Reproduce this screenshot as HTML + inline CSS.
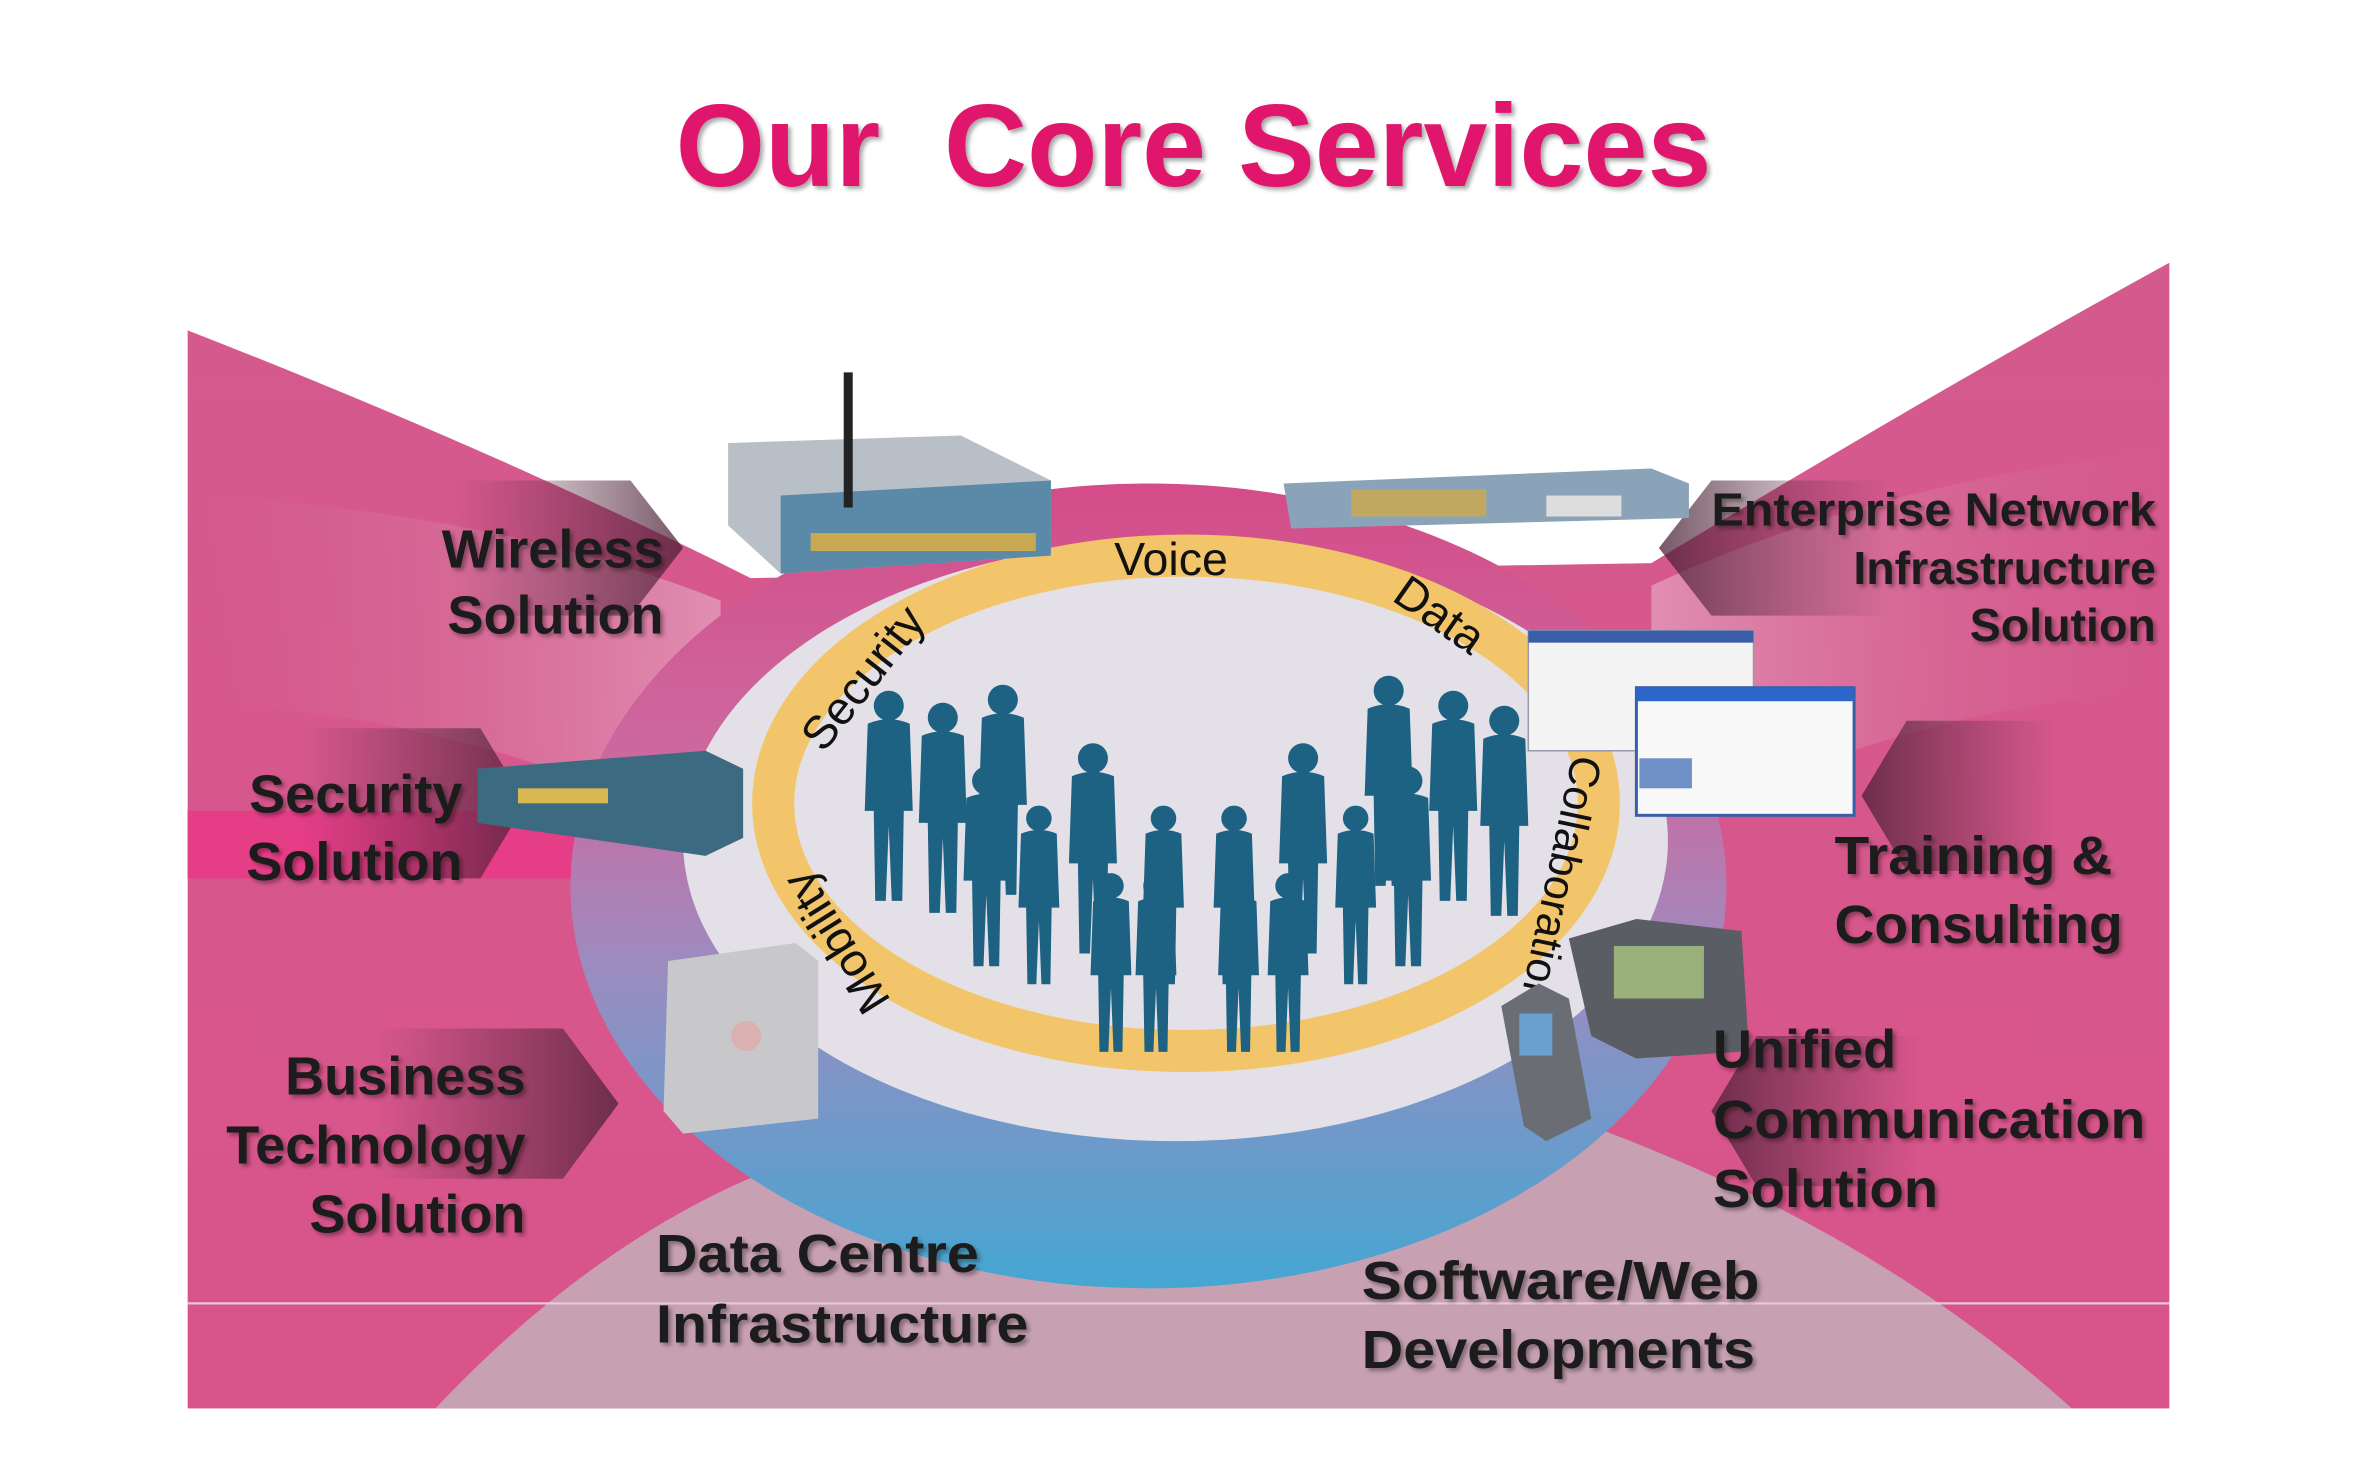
<!DOCTYPE html>
<html><head><meta charset="utf-8"><style>
html,body{margin:0;padding:0;background:#fff;}
svg{display:block;}
text{font-family:"Liberation Sans",sans-serif;font-weight:bold;}
</style></head><body>
<svg width="2354" height="1470" viewBox="0 0 1568 979" preserveAspectRatio="none">
<defs>
<linearGradient id="pk" x1="0" y1="0" x2="0" y2="1">
<stop offset="0" stop-color="#d45a8e"/><stop offset="1" stop-color="#d9548b"/></linearGradient>
<linearGradient id="oe" x1="0" y1="0" x2="0" y2="1">
<stop offset="0" stop-color="#d44c88"/><stop offset="0.35" stop-color="#cc6aa0"/><stop offset="0.6" stop-color="#9c8cc0"/><stop offset="1" stop-color="#45a6d2"/></linearGradient>
<linearGradient id="lt" x1="0" y1="0" x2="1" y2="0">
<stop offset="0" stop-color="#c8748f" stop-opacity="0"/><stop offset="1" stop-color="#f0e0e8" stop-opacity="0.8"/></linearGradient>
<linearGradient id="rt" x1="1" y1="0" x2="0" y2="0">
<stop offset="0" stop-color="#c8748f" stop-opacity="0"/><stop offset="1" stop-color="#f0e0e8" stop-opacity="0.8"/></linearGradient>
<linearGradient id="tab" x1="0" y1="0" x2="1" y2="0">
<stop offset="0" stop-color="#5a2a40" stop-opacity="0"/><stop offset="1" stop-color="#4a2034" stop-opacity="0.75"/></linearGradient>
<linearGradient id="tabr" x1="1" y1="0" x2="0" y2="0">
<stop offset="0" stop-color="#5a2a40" stop-opacity="0"/><stop offset="1" stop-color="#4a2034" stop-opacity="0.75"/></linearGradient>
<filter id="sh"><feDropShadow dx="2" dy="2" stdDeviation="1.5" flood-color="#000" flood-opacity="0.35"/></filter>
<g id="p"><circle cx="0" cy="0" r="10"/><path d="M-14,12 Q0,6 14,12 L16,70 L10,70 L9,130 L2,130 L0,80 L-2,130 L-9,130 L-10,70 L-16,70 Z"/></g>
</defs>

<!-- title -->
<text x="795" y="124" text-anchor="middle" font-size="78" fill="#e0126c" textLength="690" lengthAdjust="spacingAndGlyphs" filter="url(#sh)">Our&#160; Core Services</text>

<!-- background panel -->
<rect x="125" y="175" width="1320" height="763" fill="url(#pk)"/>
<path d="M120,170 L125,220 Q330,300 500,385 L1100,375 Q1290,260 1445,175 L1450,170 Z" fill="#fff"/>
<path d="M125,330 Q330,340 480,400 L480,560 Q300,470 125,470 Z" fill="url(#lt)" opacity="0.5"/>
<path d="M1445,300 Q1250,320 1100,390 L1100,560 Q1260,470 1445,460 Z" fill="url(#rt)" opacity="0.5"/>
<rect x="125" y="540" width="260" height="45" fill="#e63d87"/>
<path d="M290,938 Q420,800 570,760 L1060,750 Q1250,820 1380,938 Z" fill="#c7a1b2"/>
<line x1="125" y1="868" x2="1445" y2="868" stroke="#e8c8d6" stroke-width="1.5"/>

<!-- tabs -->
<path d="M300,320 L420,320 L455,365 L420,410 L300,410 Z" fill="url(#tab)"/>
<path d="M200,485 L320,485 L350,535 L320,585 L200,585 Z" fill="url(#tab)"/>
<path d="M250,685 L375,685 L412,735 L375,785 L250,785 Z" fill="url(#tab)"/>
<path d="M1260,320 L1140,320 L1105,365 L1140,410 L1260,410 Z" fill="url(#tabr)"/>
<path d="M1370,480 L1270,480 L1240,530 L1270,580 L1370,580 Z" fill="url(#tabr)"/>
<path d="M1280,690 L1170,690 L1140,740 L1170,790 L1280,790 Z" fill="url(#tabr)"/>

<!-- central ellipses -->
<ellipse cx="765" cy="590" rx="385" ry="268" fill="url(#oe)"/>
<ellipse cx="783" cy="560" rx="328" ry="200" fill="#e4e0e7"/>
<ellipse cx="790" cy="535" rx="275" ry="165" fill="none" stroke="#f2c56a" stroke-width="28"/>

<!-- people -->
<g fill="#1d6183">
<use href="#p" transform="translate(592,470)"/>
<use href="#p" transform="translate(628,478)"/>
<use href="#p" transform="translate(668,466)"/>
<use href="#p" transform="translate(657,520) scale(0.95)"/>
<use href="#p" transform="translate(692,545) scale(0.85)"/>
<use href="#p" transform="translate(728,505)"/>
<use href="#p" transform="translate(775,545) scale(0.85)"/>
<use href="#p" transform="translate(822,545) scale(0.85)"/>
<use href="#p" transform="translate(740,590) scale(0.85)"/>
<use href="#p" transform="translate(770,590) scale(0.85)"/>
<use href="#p" transform="translate(825,590) scale(0.85)"/>
<use href="#p" transform="translate(858,590) scale(0.85)"/>
<use href="#p" transform="translate(868,505)"/>
<use href="#p" transform="translate(903,545) scale(0.85)"/>
<use href="#p" transform="translate(938,520) scale(0.95)"/>
<use href="#p" transform="translate(925,460)"/>
<use href="#p" transform="translate(968,470)"/>
<use href="#p" transform="translate(1002,480)"/>
</g>

<!-- ring labels -->
<g fill="#111" font-size="31">
<text x="780" y="383" text-anchor="middle" style="font-weight:normal">Voice</text>
<text x="0" y="0" text-anchor="middle" style="font-weight:normal" transform="translate(583,458) rotate(-52)">Security</text>
<text x="0" y="0" text-anchor="middle" style="font-weight:normal" transform="translate(953,418) rotate(35)">Data</text>
<text x="0" y="0" text-anchor="middle" style="font-weight:normal" font-size="29" textLength="170" lengthAdjust="spacingAndGlyphs" transform="translate(1030,585) rotate(102)">Collaboration</text>
<text x="0" y="0" text-anchor="middle" style="font-weight:normal" transform="translate(566,622) rotate(-122)">Mobility</text>
</g>

<!-- devices -->
<g>
<path d="M485,295 L640,290 L700,320 L700,370 L520,382 L485,350 Z" fill="#b9bfc6"/>
<path d="M520,330 L700,320 L700,370 L520,382 Z" fill="#5a8aa8"/>
<rect x="540" y="355" width="150" height="12" fill="#c8a850"/>
<rect x="562" y="248" width="6" height="90" fill="#222"/>
<path d="M855,322 L1100,312 L1125,322 L1125,345 L860,352 Z" fill="#8aa3b8"/>
<rect x="900" y="326" width="90" height="18" fill="#c0a860"/>
<rect x="1030" y="330" width="50" height="14" fill="#ddd"/>
<path d="M318,512 L470,500 L495,512 L495,558 L470,570 L318,548 Z" fill="#3c6a80"/>
<rect x="345" y="525" width="60" height="10" fill="#d8b850"/>
<path d="M445,640 L530,628 L545,640 L545,745 L455,755 L442,740 Z" fill="#c8c8ca"/>
<circle cx="497" cy="690" r="10" fill="#e8a0a0" opacity="0.6"/>
<rect x="1018" y="420" width="150" height="80" fill="#f4f4f4" stroke="#99a" stroke-width="1"/>
<rect x="1018" y="420" width="150" height="8" fill="#3a5ea8"/>
<rect x="1090" y="458" width="145" height="85" fill="#f8f8f8" stroke="#3a5ea8" stroke-width="2"/>
<rect x="1090" y="458" width="145" height="9" fill="#2c66c8"/>
<rect x="1092" y="505" width="35" height="20" fill="#7090c8"/>
<path d="M1045,625 L1090,612 L1160,620 L1165,700 L1090,705 L1060,690 Z" fill="#5a5e64"/>
<rect x="1075" y="630" width="60" height="35" fill="#9ab07a"/>
<path d="M1000,670 L1025,655 L1045,665 L1060,745 L1030,760 L1015,750 Z" fill="#6a6e74"/>
<rect x="1012" y="675" width="22" height="28" fill="#6aa0d0"/>
</g>

<!-- labels -->
<g fill="#1a1a1a" font-size="36" filter="url(#sh)">
<text x="442" y="378" text-anchor="end">Wireless</text>
<text x="442" y="422" text-anchor="end">Solution</text>
<text x="308" y="541" text-anchor="end">Security</text>
<text x="308" y="586" text-anchor="end">Solution</text>
<text x="350" y="729" text-anchor="end">Business</text>
<text x="350" y="775" text-anchor="end">Technology</text>
<text x="350" y="821" text-anchor="end">Solution</text>
<text x="437" y="847" textLength="215" lengthAdjust="spacingAndGlyphs">Data Centre</text>
<text x="437" y="894" textLength="248" lengthAdjust="spacingAndGlyphs">Infrastructure</text>
<text x="907" y="865" textLength="265" lengthAdjust="spacingAndGlyphs">Software/Web</text>
<text x="907" y="911" textLength="262" lengthAdjust="spacingAndGlyphs">Developments</text>
<text x="1141" y="711">Unified</text>
<text x="1141" y="758" textLength="288" lengthAdjust="spacingAndGlyphs">Communication</text>
<text x="1141" y="804" textLength="150" lengthAdjust="spacingAndGlyphs">Solution</text>
<text x="1222" y="582" textLength="185" lengthAdjust="spacingAndGlyphs">Training &amp;</text>
<text x="1222" y="628" textLength="192" lengthAdjust="spacingAndGlyphs">Consulting</text>
<g font-size="31">
<text x="1436" y="350" text-anchor="end" textLength="296" lengthAdjust="spacingAndGlyphs">Enterprise Network</text>
<text x="1436" y="389" text-anchor="end">Infrastructure</text>
<text x="1436" y="427" text-anchor="end">Solution</text>
</g>
</g>
</svg>
</body></html>
